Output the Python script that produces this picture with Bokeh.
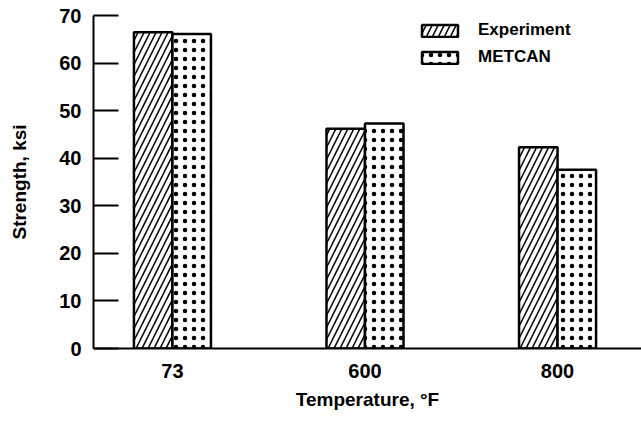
from bokeh.plotting import figure
from bokeh.models import ColumnDataSource, Range1d, FixedTicker, Legend, LegendItem
from bokeh.transform import dodge
from bokeh.embed import file_html
from bokeh.resources import INLINE

# ---- data ----
temperatures = ["73", "600", "800"]
experiment = [66.5, 46.2, 42.3]
metcan = [66.1, 47.3, 37.6]
y_ticks = [0, 10, 20, 30, 40, 50, 60, 70]

idx = list(range(len(temperatures)))
src = ColumnDataSource(dict(x=idx, experiment=experiment, metcan=metcan))

FONT = "Liberation Sans"

p = figure(width=641, height=423, output_backend="svg", toolbar_location=None,
           x_range=Range1d(-0.41, 2.436), y_range=Range1d(0, 70),
           min_border_left=93, min_border_right=0, min_border_top=15,
           min_border_bottom=75)
p.outline_line_color = None
p.grid.visible = False
p.background_fill_color = "white"
p.border_fill_color = "white"

r1 = p.vbar(x=dodge("x", -0.1, range=p.x_range), top="experiment", width=0.2,
            source=src, fill_color="white", line_color="black", line_width=2.5,
            hatch_pattern="/", hatch_color="black", hatch_scale=12, hatch_weight=1.5)
r2 = p.vbar(x=dodge("x", 0.1, range=p.x_range), top="metcan", width=0.2,
            source=src, fill_color="white", line_color="black", line_width=2.5,
            hatch_pattern=".", hatch_color="black", hatch_scale=9, hatch_weight=1)

legend = Legend(items=[LegendItem(label="Experiment", renderers=[r1]),
                       LegendItem(label="METCAN", renderers=[r2])],
                location=(324, 281), glyph_width=45, glyph_height=15,
                label_standoff=16, spacing=7, padding=0, margin=0,
                label_height=20,
                border_line_color=None, background_fill_alpha=0,
                label_text_font=FONT, label_text_font_style="bold",
                label_text_font_size="17px", label_text_color="black")
p.add_layout(legend)

# y axis
p.yaxis.ticker = FixedTicker(ticks=y_ticks)
p.yaxis.minor_tick_line_color = None
p.yaxis.major_tick_in = 25
p.yaxis.major_tick_out = 0
p.yaxis.major_tick_line_width = 2
p.yaxis.major_tick_line_color = "black"
p.yaxis.axis_line_width = 2
p.yaxis.axis_line_color = "black"
p.yaxis.major_label_standoff = 12
p.yaxis.major_label_text_font = FONT
p.yaxis.major_label_text_font_style = "bold"
p.yaxis.major_label_text_font_size = "20px"
p.yaxis.major_label_text_color = "black"
p.yaxis.axis_label = "Strength, ksi"
p.yaxis.axis_label_text_font = FONT
p.yaxis.axis_label_text_font_style = "bold"
p.yaxis.axis_label_text_font_size = "19px"
p.yaxis.axis_label_text_color = "black"
p.yaxis.axis_label_standoff = 26

# x axis
p.xaxis.ticker = FixedTicker(ticks=idx)
p.xaxis.major_label_overrides = {i: t for i, t in zip(idx, temperatures)}
p.xaxis.minor_tick_line_color = None
p.xaxis.major_tick_in = 0
p.xaxis.major_tick_out = 0
p.xaxis.axis_line_width = 2
p.xaxis.axis_line_color = "black"
p.xaxis.major_label_standoff = 15
p.xaxis.major_label_text_font = FONT
p.xaxis.major_label_text_font_style = "bold"
p.xaxis.major_label_text_font_size = "20px"
p.xaxis.major_label_text_color = "black"
p.xaxis.axis_label = "Temperature, °F"
p.xaxis.axis_label_text_font = FONT
p.xaxis.axis_label_text_font_style = "bold"
p.xaxis.axis_label_text_font_size = "19px"
p.xaxis.axis_label_text_color = "black"
p.xaxis.axis_label_standoff = 8

open("out.html", "w").write(file_html(p, INLINE))
